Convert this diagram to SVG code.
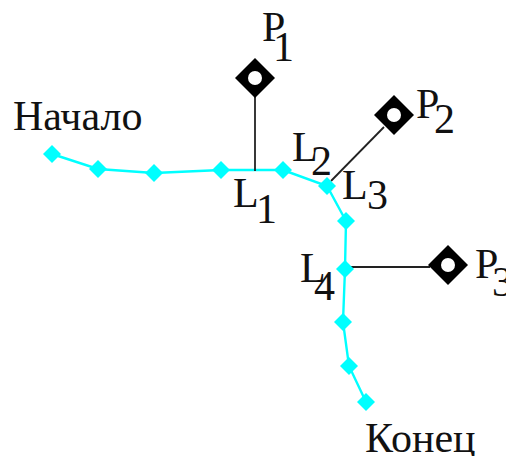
<svg xmlns="http://www.w3.org/2000/svg" width="506" height="456" viewBox="0 0 506 456">
<style>
.t{font-family:"Liberation Serif","Times New Roman",serif;font-size:42px;fill:#111}
.c{fill:none;stroke:#00ffff;stroke-width:2.4}
.k{fill:none;stroke:#222;stroke-width:1.8}
.v{fill:#00ffff}
.p{fill:#000}
.h{fill:#fff}
</style>
<defs>
<polygon id="v" class="v" points="0,-9 9,0 0,9 -9,0"/>
<g id="p"><polygon class="p" points="0,-20 20,0 0,20 -20,0"/><circle class="h" cx="0" cy="0" r="7"/></g>
</defs>
<rect width="506" height="456" fill="#fff"/>
<g id="connectors">
<polyline class="c" points="52,154 98,169 154,173 221,170 283,170 327,186 346,221 345,269 343,322 349,366 366,402"/>
<line class="k" x1="255" y1="97" x2="255" y2="171"/>
<line class="k" x1="384" y1="127" x2="331" y2="181"/>
<line class="k" x1="345" y1="267" x2="430" y2="267"/>
</g>
<g id="v1"><use href="#v" x="52" y="154"/></g>
<g id="v2"><use href="#v" x="98" y="169"/></g>
<g id="v3"><use href="#v" x="154" y="173"/></g>
<g id="v4"><use href="#v" x="221" y="170"/></g>
<g id="v5"><use href="#v" x="283" y="170"/></g>
<g id="v6"><use href="#v" x="327" y="186"/></g>
<g id="v7"><use href="#v" x="346" y="221"/></g>
<g id="v8"><use href="#v" x="345" y="269"/></g>
<g id="v9"><use href="#v" x="343" y="322"/></g>
<g id="v10"><use href="#v" x="349" y="366"/></g>
<g id="v11"><use href="#v" x="366" y="402"/></g>
<g id="P1"><use href="#p" x="255" y="78"/><text class="t" x="262" y="41">P</text><text class="t" x="273" y="61">1</text></g>
<g id="P2"><use href="#p" x="394" y="115"/><text class="t" x="416" y="118">P</text><text class="t" x="434" y="133">2</text></g>
<g id="P3"><use href="#p" x="448" y="265"/><text class="t" x="475" y="278">P</text><text class="t" x="492" y="296">3</text></g>
<g id="L1"><text class="t" x="233" y="207">L</text><text class="t" x="256" y="223">1</text></g>
<g id="L2"><text class="t" x="292" y="161">L</text><text class="t" x="311" y="175">2</text></g>
<g id="L3"><text class="t" x="342" y="199">L</text><text class="t" x="367" y="209">3</text></g>
<g id="L4"><text class="t" x="300" y="282">L</text><text class="t" x="314" y="300">4</text></g>
<g id="start"><text class="t" x="13" y="130">Начало</text></g>
<g id="end"><text class="t" x="365" y="452">Конец</text></g>
</svg>
